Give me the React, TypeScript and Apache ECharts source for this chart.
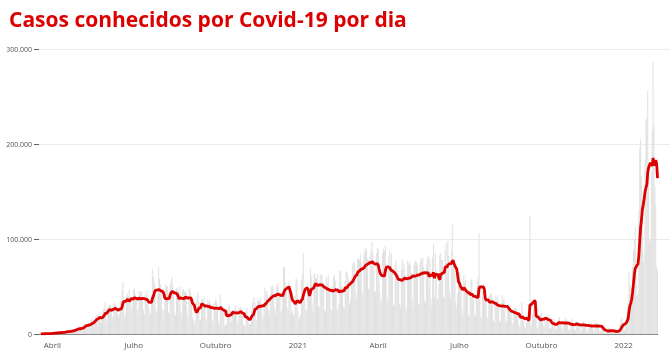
import React, { useEffect, useRef } from "react";
import * as echarts from "echarts";

// Casos diários (em milhares), de 13/03/2020 em diante; semanas começam na sexta-feira
const START_DATE = "2020-03-13";
const cases2020 = [
  0.02, 0.02, 0.08, 0.03, 0.06, 0.14, 0.19,
  0.28, 0.22, 0.42, 0.35, 0.31, 0.23, 0.48,
  0.5, 0.49, 0.35, 0.32, 1.14, 1.12, 1.21,
  1.07, 1.15, 0.85, 0.93, 1.66, 2.21, 1.93,
  1.78, 1.09, 1.26, 1.83, 1.54, 3.06, 3.06,
  3.2, 3.3, 2.0, 2.0, 2.3, 3.6, 4.3,
  5.5, 3.5, 4.6, 4.4, 5.4, 6.3, 7.2,
  6.2, 4.6, 4.6, 6.6, 6.9, 10.5, 10.5,
  11.1, 10.6, 6.6, 5.6, 11.4, 11.4, 13.9,
  15.3, 14.9, 7.9, 13.1, 17.4, 19.9, 18.5,
  20.8, 16.5, 15.8, 11.7, 16.3, 20.6, 26.4,
  26.9, 33.3, 16.4, 11.6, 28.9, 28.6, 30.9,
  30.8, 27.1, 18.9, 15.7, 32.1, 32.9, 30.4,
  25.9, 21.7, 17.1, 20.6, 34.9, 32.2, 45.0,
  55.0, 34.7, 17.5, 21.4, 39.4, 42.7, 39.5,
  46.9, 38.7, 30.5, 24.1, 33.8, 46.7, 48.1,
  42.2, 37.9, 26.1, 20.2, 45.3, 41.9, 44.6,
  45.0, 39.0, 24.8, 20.3, 41.9, 39.9, 45.4,
  34.2, 28.5, 23.5, 20.3, 41.0, 67.9, 59.9,
  55.9, 51.1, 24.6, 23.3, 41.9, 70.0, 57.8,
  52.4, 45.4, 25.8, 16.6, 25.8, 40.9, 53.1,
  50.2, 49.9, 23.0, 21.0, 52.2, 55.2, 60.1,
  50.6, 41.6, 23.1, 19.4, 47.8, 49.3, 45.3,
  30.4, 50.0, 23.4, 17.0, 47.1, 47.2, 44.2,
  45.5, 43.4, 21.6, 16.2, 47.2, 48.8, 43.8,
  30.2, 18.0, 14.5, 10.3, 14.3, 33.0, 40.6,
  43.7, 33.5, 14.8, 15.2, 36.7, 36.8, 34.0,
  39.8, 28.4, 16.0, 13.4, 36.3, 33.5, 35.8,
  31.9, 28.4, 14.3, 13.2, 32.0, 33.4, 36.7,
  33.4, 26.3, 13.2, 10.3, 41.9, 31.5, 27.8,
  27.4, 24.1, 8.4, 9.4, 10.2, 25.9, 28.5,
  30.9, 24.6, 12.3, 14.2, 25.8, 23.2, 24.8,
  30.0, 26.1, 11.4, 13.5, 28.6, 26.1, 28.6,
  26.7, 18.9, 10.1, 8.5, 8.4, 23.9, 27.4,
  18.9, 10.6, 10.1, 10.8, 23.9, 34.0, 30.9,
  38.3, 32.8, 15.0, 13.4, 35.3, 35.8, 34.1,
  37.9, 32.3, 18.6, 16.2, 31.1, 48.5, 37.6,
  45.6, 41.9, 25.0, 21.1, 41.9, 50.4, 46.9,
  51.1, 44.0, 26.8, 20.6, 51.1, 48.8, 53.3,
  43.9, 43.9, 21.8, 25.2, 42.9, 70.6, 69.8,
  54.4, 48.3, 27.8, 25.0, 55.2, 46.7, 48.4,
  22.3, 24.8, 18.5, 21.4, 39.1, 58.7, 56.8,
];
const cases2021 = [
  24.6, 15.8, 17.3, 20.0, 56.6, 63.5, 85.0,
  46.0, 38.5, 25.0, 23.9, 53.6, 45.0, 48.4,
  69, 62, 33, 23, 62, 64, 59,
  58, 62, 29, 28, 63, 61, 63,
  52, 52, 25, 24, 60, 54, 62,
  50, 46, 26, 25, 51, 60, 62,
  56, 45, 25, 26, 33, 67, 66,
  51, 48, 28, 27, 55, 66, 65,
  62, 58, 31, 36, 60, 72, 75,
  76, 70, 43, 37, 80, 79, 78,
  85, 76, 44, 40, 84, 90, 87,
  90, 79, 47, 49, 83, 89, 97,
  85, 71, 44, 45, 85, 91, 89,
  55, 43, 32, 35, 85, 90, 87,
  93, 67, 38, 35, 81, 88, 73,
  85, 67, 30, 30, 73, 78, 63,
  67, 59, 32, 28, 68, 79, 69,
  74, 62, 28, 24, 77, 73, 76,
  73, 65, 37, 28, 72, 75, 78,
  75, 72, 31, 33, 76, 78, 80,
  80, 70, 35, 33, 73, 80, 82,
  50, 79, 37, 30, 81, 95, 39,
  85, 68, 37, 36, 52, 83, 85,
  78, 78, 39, 38, 87, 95, 74,
  98, 82, 44, 38, 88, 115, 73,
  79, 64, 33, 27, 43, 65, 65,
  57, 51, 25, 18, 62, 54, 57,
  48, 45, 19, 20, 46, 58, 57,
  42, 35, 19, 20, 41, 55, 60,
  106, 47, 19, 16, 45, 53, 41,
  40, 37, 17, 18, 40, 40, 43,
  42, 37, 14, 13, 36, 41, 34,
  39, 32, 14, 12, 33, 41, 36,
  37, 31, 14, 12, 30, 31, 30,
  27, 26, 11, 10, 26, 28, 27,
  26, 21, 11, 8, 8, 18, 34,
  24, 14, 8, 6, 12, 20, 20,
  22, 125, 12, 8, 21, 26, 30,
  19, 17, 7, 6, 13, 19, 22,
  22, 18, 9, 7, 18, 19, 20,
  17, 16, 6, 5, 7, 10, 16,
  16, 12, 5, 5, 13, 15, 18,
  14, 12, 6, 4, 12, 15, 17,
  15, 12, 5, 4, 5, 14, 16,
  14, 11, 5, 4, 11, 13, 13,
  12, 10, 4, 3, 12, 13, 11,
  12, 9, 3, 3, 11, 12, 10,
  11, 9, 4, 3, 10, 11, 12,
  10, 9, 3, 3, 9, 7, 3,
  3, 2, 1, 1, 4, 7, 6,
  3, 2, 1, 1, 3, 5, 4,
  3, 2, 2, 3, 10, 15, 17,
];
// de 31/12/2021 a 08/02/2022
const cases2022 = [
  12, 10, 4, 8, 18, 27, 32,
  66, 52, 25, 36, 70, 88, 100,
  112, 62, 40, 42, 130, 195, 205,
  166, 140, 75, 85, 183, 224, 228,
  256, 175, 95, 100, 170, 215, 286,
  220, 155, 135, 70, 67,
];

const monthLabels: Record<string, string> = { "04": "Abril", "07": "Julho", "10": "Outubro" };
const yTickLabels = ["0", "100.000", "200.000", "300.000"];
const TITLE = "Casos conhecidos por Covid-19 por dia";

const RED = "#dc0000";

export default function App() {
  const ref = useRef<HTMLDivElement>(null);

  useEffect(() => {
    if (!ref.current) return;
    const chart = echarts.init(ref.current, undefined, { renderer: "svg" });

    const daily = [...cases2020, ...cases2021, ...cases2022];
    const dates: string[] = [];
    const start = new Date(START_DATE + "T00:00:00Z").getTime();
    for (let i = 0; i < daily.length; i++) {
      dates.push(new Date(start + i * 86400000).toISOString().slice(0, 10));
    }
    const ma7 = daily.map((_, i) => {
      if (i < 6) return "-";
      let s = 0;
      for (let j = i - 6; j <= i; j++) s += daily[j];
      return +(s / 7).toFixed(2);
    });

    const isQuarter = (idx: number) => {
      const d = dates[idx];
      if (!d) return false;
      const m = d.slice(5, 7);
      return d.slice(8, 10) === "01" && (m === "01" || m === "04" || m === "07" || m === "10");
    };

    chart.setOption({
      animation: false,
      title: {
        text: TITLE,
        left: 4,
        top: 3,
        textStyle: {
          fontFamily: "Open Sans",
          fontWeight: "bold",
          fontSize: 21,
          color: RED,
        },
      },
      grid: [
        { left: 39, right: 1, top: 49, bottom: 30 },
        { left: 35, right: 13, top: 49, bottom: 30 },
      ],
      xAxis: [
        { gridIndex: 0, type: "value", show: false, min: 0, max: 1 },
        {
          gridIndex: 1,
          type: "category",
          data: dates,
          boundaryGap: true,
          axisLine: { lineStyle: { color: "#8a8a8a", width: 1 } },
          axisTick: {
            interval: (idx: number) => isQuarter(idx),
            alignWithLabel: true,
            length: 4,
            lineStyle: { color: "#8a8a8a" },
          },
          axisLabel: {
            interval: (idx: number) => isQuarter(idx),
            formatter: (v: string) => {
              const m = v.slice(5, 7);
              return m === "01" ? v.slice(0, 4) : monthLabels[m] || "";
            },
            fontFamily: "Open Sans",
            fontSize: 8,
            color: "#555",
            margin: 6,
            hideOverlap: false,
          },
          splitLine: { show: false },
        },
      ],
      yAxis: [
        {
          gridIndex: 0,
          type: "value",
          min: 0,
          max: 300,
          interval: 100,
          axisLine: { show: false },
          axisTick: { show: true, length: 5, lineStyle: { color: "#666" } },
          axisLabel: {
            formatter: (v: number) => yTickLabels[Math.round(v / 100)],
            fontFamily: "Open Sans",
            fontSize: 7,
            color: "#555",
            margin: 7,
          },
          splitLine: {
            show: true,
            lineStyle: { color: ["transparent", "#ebebeb", "#ebebeb", "#ebebeb"], width: 1 },
          },
        },
        { gridIndex: 1, type: "value", min: 0, max: 300, show: false },
      ],
      series: [
        {
          type: "bar",
          xAxisIndex: 1,
          yAxisIndex: 1,
          data: daily,
          barCategoryGap: "15%",
          itemStyle: { color: "#e0e0e0" },
          silent: true,
        },
        {
          type: "line",
          xAxisIndex: 1,
          yAxisIndex: 1,
          data: ma7,
          showSymbol: false,
          symbol: "none",
          lineStyle: { color: RED, width: 2.8 },
          z: 5,
          silent: true,
        },
      ],
    });

    return () => chart.dispose();
  }, []);

  return (
    <div
      ref={ref}
      style={{ position: "fixed", left: 0, top: 0, width: 671, height: 364 }}
    />
  );
}
